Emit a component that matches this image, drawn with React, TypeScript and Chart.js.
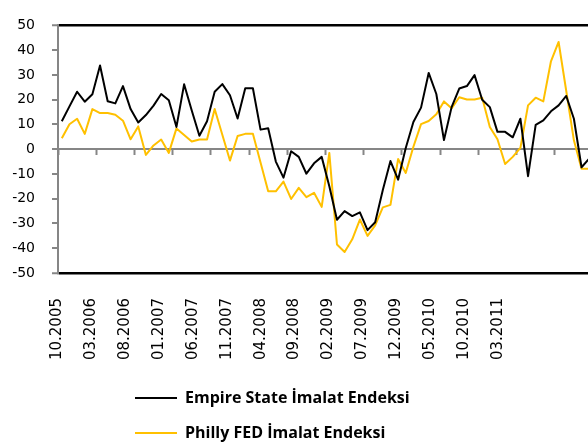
import React, { useEffect, useRef } from 'react';
import { Chart, registerables } from 'chart.js';

Chart.register(...registerables);

// Monthly series, first month 10.2005
const START_MONTH = 10;
const START_YEAR = 2005;

const empireState = [
  11.3, 17.3, 23.2, 19.2, 22.2, 33.8, 19.4, 18.5, 25.5, 16.2,
  10.8, 13.8, 17.6, 22.3, 19.8, 9.0, 26.2, 15.6, 5.4, 11.3,
  23.2, 26.3, 21.8, 12.4, 24.6, 24.6, 7.9, 8.5, -5.0, -11.5,
  -0.8, -3.1, -9.9, -5.7, -3.1, -15.0, -28.5, -25.0, -27.0, -25.5,
  -32.7, -29.5, -16.5, -4.8, -12.3, 0.5, 11.0, 16.8, 30.8, 22.3,
  3.7, 17.0, 24.5, 25.5, 29.9, 20.0, 17.0, 7.0, 7.0, 4.8,
  12.3, -10.9, 9.8, 11.6, 15.3, 17.7, 21.5, 12.3, -7.3, -3.8,
];

const phillyFed = [
  4.4, 10.1, 12.3, 6.2, 16.2, 14.6, 14.6, 13.9, 11.5, 4.0,
  9.2, -2.3, 1.5, 3.9, -1.5, 8.4, 5.7, 3.1, 3.9, 3.9,
  16.2, 5.8, -4.6, 5.3, 6.2, 6.2, -5.4, -17.0, -17.0, -13.1,
  -20.1, -15.6, -19.4, -17.6, -23.3, -1.5, -38.5, -41.5, -36.4, -28.4,
  -35.0, -30.8, -23.5, -22.5, -4.0, -9.6, 1.0, 10.1, 11.4, 14.1,
  19.3, 16.5, 21.0, 20.1, 20.1, 20.8, 9.0, 4.0, -6.0, -3.1,
  0.5, 17.7, 20.8, 19.3, 35.5, 43.3, 23.5, 3.6, -7.9, -7.9,
];

const tickLabels = [
  '10.2005', '03.2006', '08.2006', '01.2007', '06.2007', '11.2007', '04.2008',
  '09.2008', '02.2009', '07.2009', '12.2009', '05.2010', '10.2010', '03.2011',
];

const seriesNames = ['Empire State İmalat Endeksi', 'Philly FED İmalat Endeksi'];

const months = empireState.map((_, i) => {
  const k = START_MONTH - 1 + i;
  const m = (k % 12) + 1;
  const y = START_YEAR + Math.floor(k / 12);
  return `${String(m).padStart(2, '0')}.${y}`;
});

const GRAY = '#868686';
const BLACK = '#000000';
const GOLD = '#FFC000';
const CLEAR = 'rgba(0,0,0,0)';
const LEGEND_LEFT = 116;

const legendLeftPlugin = {
  id: 'legendLeft',
  afterLayout(chart: any) {
    if (chart.legend) {
      chart.legend.left = LEGEND_LEFT;
    }
  },
};

export default function App() {
  const canvasRef = useRef<HTMLCanvasElement | null>(null);

  useEffect(() => {
    if (!canvasRef.current) return;
    const chart = new Chart(canvasRef.current, {
      type: 'line',
      data: {
        labels: months,
        datasets: [
          {
            label: seriesNames[0],
            data: empireState,
            borderColor: BLACK,
            backgroundColor: BLACK,
            borderWidth: 2,
            pointRadius: 0,
            tension: 0,
            borderJoinStyle: 'round',
            xAxisID: 'x',
            yAxisID: 'y',
          },
          {
            label: seriesNames[1],
            data: phillyFed,
            borderColor: GOLD,
            backgroundColor: GOLD,
            borderWidth: 2,
            pointRadius: 0,
            tension: 0,
            borderJoinStyle: 'round',
            xAxisID: 'x',
            yAxisID: 'y',
          },
        ],
      },
      options: {
        animation: false,
        responsive: true,
        maintainAspectRatio: false,
        layout: { padding: { left: 0, top: 14, right: 0, bottom: 0 } },
        plugins: {
          tooltip: { enabled: false },
          legend: {
            display: true,
            position: 'bottom',
            align: 'start',
            fullSize: false,
            labels: {
              usePointStyle: true,
              pointStyle: 'line',
              pointStyleWidth: 42,
              padding: 19,
              color: '#000',
              font: { family: 'Open Sans', size: 16, weight: 'bold' },
            },
          },
        },
        scales: {
          x: {
            type: 'category',
            position: { y: 0 },
            offset: true,
            ticks: { display: false },
            grid: {
              offset: true,
              drawOnChartArea: false,
              drawTicks: true,
              tickLength: 6,
              tickWidth: 2,
              tickColor: (ctx: any) => (ctx.index % 5 === 0 ? GRAY : CLEAR),
            },
            border: { display: false },
          },
          x2: {
            type: 'linear',
            axis: 'x',
            position: 'bottom',
            bounds: 'data',
            min: 0.02,
            max: 15.81,
            grid: { display: false, drawTicks: false },
            border: { display: false },
            afterBuildTicks: (scale: any) => {
              scale.ticks = tickLabels.map((_, i) => ({ value: i }));
            },
            afterFit: (scale: any) => {
              scale.height = 98;
            },
            ticks: {
              autoSkip: false,
              minRotation: 90,
              maxRotation: 90,
              padding: 25,
              color: '#000',
              font: { family: 'DejaVu Sans', size: 15 },
              callback: (value: any) => tickLabels[value] ?? '',
            },
          },
          y: {
            type: 'linear',
            position: 'left',
            min: -50,
            max: 50,
            afterFit: (scale: any) => {
              scale.width = 58;
            },
            ticks: {
              stepSize: 10,
              padding: 17,
              color: '#000',
              font: { family: 'DejaVu Sans', size: 14 },
            },
            grid: {
              drawOnChartArea: true,
              drawTicks: true,
              tickLength: 6,
              tickWidth: 2,
              tickColor: GRAY,
              color: (ctx: any) => {
                const v = ctx.tick ? ctx.tick.value : null;
                if (v === 0) return GRAY;
                if (v === 50 || v === -50) return BLACK;
                return CLEAR;
              },
              lineWidth: (ctx: any) => {
                const v = ctx.tick ? ctx.tick.value : null;
                return v === 50 || v === -50 ? 2.5 : 2;
              },
            },
            border: { display: true, color: GRAY, width: 2 },
          },
        },
      },
      plugins: [legendLeftPlugin],
    } as any);
    return () => chart.destroy();
  }, []);

  return (
    <div style={{ position: 'fixed', left: 0, top: 0, width: 593, height: 451, background: '#fff' }}>
      <canvas ref={canvasRef} />
    </div>
  );
}
